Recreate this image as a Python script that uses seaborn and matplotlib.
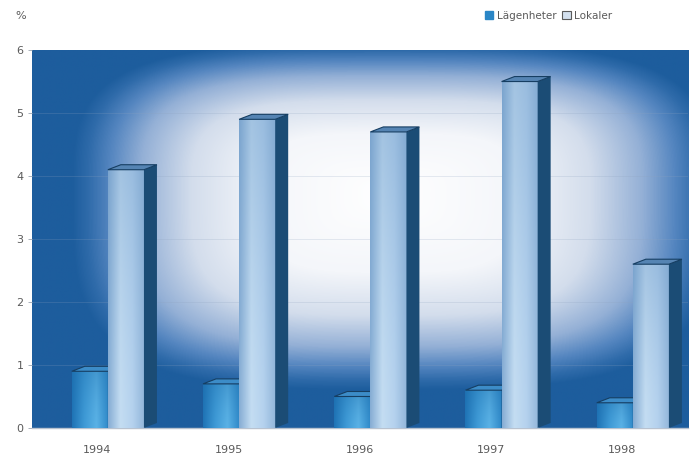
import numpy as np
import pandas as pd
import seaborn as sns
import matplotlib.pyplot as plt
from matplotlib.patches import Polygon, Patch
from matplotlib.colors import LinearSegmentedColormap, to_rgb

# Data: share of vacant space (%) per year
years = ["1994", "1995", "1996", "1997", "1998"]
lagenheter = [0.9, 0.7, 0.5, 0.6, 0.4]
lokaler = [4.1, 4.9, 4.7, 5.5, 2.6]
series = ["Lägenheter", "Lokaler"]
y_ticks = [0, 1, 2, 3, 4, 5, 6]

df = pd.DataFrame({
    "År": years * 2,
    "Andel": lagenheter + lokaler,
    "Typ": [series[0]] * len(years) + [series[1]] * len(years),
})

sns.set_theme(style="white")
plt.rcParams["font.family"] = ["DejaVu Sans"]

FIG_W, FIG_H, DPI = 6.9, 4.57, 100
fig = plt.figure(figsize=(FIG_W, FIG_H), dpi=DPI)
ax = fig.add_axes([0.046, 0.0635, 0.951, 0.827])

palette = {series[0]: "#2A86C6", series[1]: "#A9C8E6"}
sns.barplot(data=df, x="År", y="Andel", hue="Typ", order=years,
            hue_order=series, palette=palette, width=0.55, dodge=True,
            saturation=1, legend=False, ax=ax, zorder=3)

ax.set_xlim(-0.5, len(years) - 0.5)
ax.set_ylim(0, 6)

# Boxy "spotlight" background: white centre fading into deep blue edges
H, W = 400, 700
yy, xx = np.mgrid[0:1:H * 1j, 0:1:W * 1j]
cx, cy = 0.54, 0.62
u = np.where(xx < cx, (cx - xx) / 0.48, (xx - cx) / 0.50)
v = np.where(yy > cy, (yy - cy) / 0.40, (cy - yy) / 0.52)
d = (u ** 3.5 + v ** 3.5) ** (1 / 3.5)
bg_cmap = LinearSegmentedColormap.from_list(
    "bg", [(0.0, "#FFFFFF"), (0.4, "#F4F6FA"), (0.62, "#D3DDEC"),
           (0.78, "#94B0D6"), (0.88, "#5586C0"), (0.95, "#2F6BAA"),
           (1.0, "#1D5D9D")])
ax.imshow(np.clip(d, 0, 1), cmap=bg_cmap, vmin=0, vmax=1, origin="lower",
          extent=[0, 1, 0, 1], transform=ax.transAxes, aspect="auto",
          zorder=0, interpolation="bilinear")

# faint horizontal guide lines
for t in y_ticks[1:-1]:
    ax.axhline(t, color="#8FA3BF", lw=0.6, alpha=0.25, zorder=1)

# pseudo-3D extrusion sizes in data units
fig.canvas.draw()
bb = ax.get_window_extent()
px_x = (ax.get_xlim()[1] - ax.get_xlim()[0]) / bb.width
px_y = (ax.get_ylim()[1] - ax.get_ylim()[0]) / bb.height
DX, DY = 13 * px_x, 5 * px_y
SHIFT = 0.08

face_styles = {
    series[0]: dict(h=["#1F74B6", "#3E9AD6", "#5AB2E6", "#2E88C8"],
                    top="#1C6AA8", side="#184F80", cap="#3C8CC8"),
    series[1]: dict(h=["#86ADD4", "#C4DDF2", "#B5D2EE", "#92B6DA"],
                    top="#6795C4", side="#1B4C75", cap="#5584B3"),
}

for level, (name, container) in enumerate(zip(series, ax.containers)):
    st = face_styles[name]
    hcols = np.array([to_rgb(c) for c in st["h"]])
    for bar in container:
        bar.set_x(bar.get_x() + SHIFT)
        x0, w, h = bar.get_x(), bar.get_width(), bar.get_height()
        x1 = x0 + w
        z = 3 + 2 * level
        bar.set_zorder(z)
        bar.set_edgecolor("none")
        # front face gradient (horizontal sheen, darker towards the top)
        nx, ny = 60, 80
        xs = np.linspace(0, 1, nx)
        pos = np.linspace(0, 1, len(hcols))
        row = np.stack([np.interp(xs, pos, hcols[:, k]) for k in range(3)], axis=-1)
        ys = np.linspace(0, 1, ny)[:, None, None]
        top_rgb = np.array(to_rgb(st["top"]))
        img = row[None, :, :] * (1 - 0.35 * ys ** 1.5) + top_rgb * 0.35 * ys ** 1.5
        im = ax.imshow(np.clip(img, 0, 1), origin="lower", extent=[x0, x1, 0, h],
                       aspect="auto", zorder=z + 0.1, interpolation="bilinear")
        im.set_clip_path(bar)
        # right side face
        side = Polygon([(x1, 0), (x1 + DX, DY), (x1 + DX, h + DY), (x1, h)],
                       closed=True, facecolor=st["side"], edgecolor="none",
                       zorder=z + 0.2)
        ax.add_patch(side)
        # top cap
        cap = Polygon([(x0, h), (x1, h), (x1 + DX, h + DY), (x0 + DX, h + DY)],
                      closed=True, facecolor=st["cap"], edgecolor="#163E62",
                      lw=0.8, zorder=z + 0.3)
        ax.add_patch(cap)

ax.set_xlim(-0.5, len(years) - 0.5)
ax.set_ylim(0, 6)

# axes styling
for s in ["top", "right", "left"]:
    ax.spines[s].set_visible(False)
ax.spines["bottom"].set_color("#B8C2CF")
ax.spines["bottom"].set_linewidth(1.0)
ax.set_yticks(y_ticks)
ax.set_yticklabels([str(t) for t in y_ticks])
ax.tick_params(axis="y", left=True, length=3, width=0.6, color="#9AA4B0",
               labelsize=8, labelcolor="#5A5A5A", pad=3)
ax.tick_params(axis="x", bottom=False, labelsize=8, labelcolor="#5A5A5A", pad=6)
ax.set_xlabel("")
ax.set_ylabel("")

fig.text(15 / 690, 1 - 16 / 457, "%", fontsize=8, color="#5A5A5A",
         ha="left", va="center")

handles = [Patch(facecolor="#2A86C6", edgecolor="#2A86C6", label=series[0]),
           Patch(facecolor="#D3E0EE", edgecolor="#5A5A5A", lw=0.8, label=series[1])]
leg = fig.legend(handles=handles, loc="center right",
                 bbox_to_anchor=(612 / 690, 1 - 16 / 457), ncol=2,
                 frameon=False, fontsize=7.5, handlelength=0.8,
                 handleheight=0.8, handletextpad=0.3, columnspacing=0.6,
                 borderaxespad=0, borderpad=0)
for t in leg.get_texts():
    t.set_color("#5A5A5A")

fig.savefig("out.png", dpi=DPI)
